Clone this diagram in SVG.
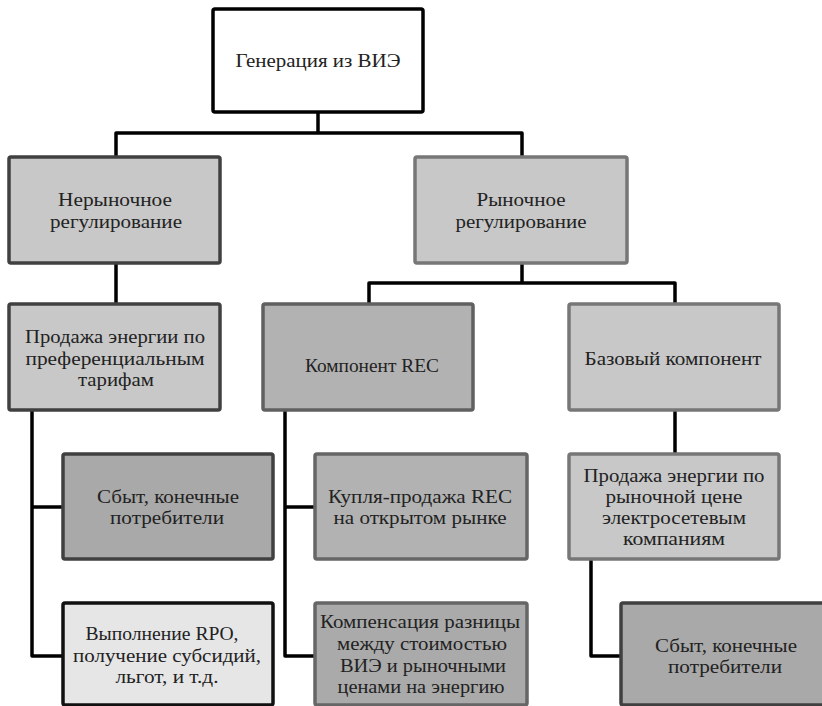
<svg xmlns="http://www.w3.org/2000/svg" width="822" height="706" viewBox="0 0 822 706">
<style>
.box{stroke-width:3.5}
.t{font-family:'Liberation Serif','Times New Roman',serif;font-size:18px;fill:#222;text-anchor:middle}
.c{fill:none;stroke:#000;stroke-width:3.5;stroke-linejoin:round}
</style>
<rect width="822" height="706" fill="#fff"/>
<g id="connectors">
<path class="c" d="M318 112V133M116 157V133H522V157"/>
<path class="c" d="M116 263V304"/>
<path class="c" d="M522 263V283M369 304V283H675V304"/>
<path class="c" d="M32 410V656H63M32 507H63"/>
<path class="c" d="M285 410V656H315M285 507H315"/>
<path class="c" d="M675 410V454"/>
<path class="c" d="M591 559V656H621"/>
</g>
<g id="n-root"><rect class="box" x="213" y="9" width="210" height="103" rx="2" fill="#fff" stroke="#000"/>
<text class="t" x="318" y="67" textLength="165" lengthAdjust="spacingAndGlyphs">Генерация из ВИЭ</text></g>
<g id="n-nonmarket"><rect class="box" x="9" y="157" width="211" height="106" rx="2" fill="#c8c8c8" stroke="#404040"/>
<text class="t" x="115" y="206" textLength="114" lengthAdjust="spacingAndGlyphs">Нерыночное</text><text class="t" x="116" y="228" textLength="132" lengthAdjust="spacingAndGlyphs">регулирование</text></g>
<g id="n-market"><rect class="box" x="415" y="157" width="212" height="106" rx="2" fill="#c8c8c8" stroke="#777"/>
<text class="t" x="521" y="206" textLength="89" lengthAdjust="spacingAndGlyphs">Рыночное</text><text class="t" x="521" y="228" textLength="131" lengthAdjust="spacingAndGlyphs">регулирование</text></g>
<g id="n-pref"><rect class="box" x="9" y="304" width="211" height="106" rx="2" fill="#c8c8c8" stroke="#404040"/>
<text class="t" x="115" y="343" textLength="180" lengthAdjust="spacingAndGlyphs">Продажа энергии по</text><text class="t" x="115" y="365" textLength="179" lengthAdjust="spacingAndGlyphs">преференциальным</text><text class="t" x="116" y="386" textLength="76" lengthAdjust="spacingAndGlyphs">тарифам</text></g>
<g id="n-rec"><rect class="box" x="263" y="304" width="210" height="106" rx="2" fill="#b2b2b2" stroke="#606060"/>
<text class="t" x="372" y="372" textLength="134" lengthAdjust="spacingAndGlyphs">Компонент REC</text></g>
<g id="n-base"><rect class="box" x="569" y="304" width="210" height="106" rx="2" fill="#c8c8c8" stroke="#777"/>
<text class="t" x="673" y="365" textLength="177" lengthAdjust="spacingAndGlyphs">Базовый компонент</text></g>
<g id="n-sales1"><rect class="box" x="63" y="454" width="210" height="105" rx="2" fill="#a9a9a9" stroke="#404040"/>
<text class="t" x="168" y="503" textLength="142" lengthAdjust="spacingAndGlyphs">Сбыт, конечные</text><text class="t" x="167" y="524" textLength="114" lengthAdjust="spacingAndGlyphs">потребители</text></g>
<g id="n-trade"><rect class="box" x="315" y="454" width="212" height="105" rx="2" fill="#b2b2b2" stroke="#666"/>
<text class="t" x="420" y="503" textLength="184" lengthAdjust="spacingAndGlyphs">Купля-продажа REC</text><text class="t" x="420" y="524" textLength="173" lengthAdjust="spacingAndGlyphs">на открытом рынке</text></g>
<g id="n-marketprice"><rect class="box" x="569" y="454" width="210" height="105" rx="2" fill="#c8c8c8" stroke="#777"/>
<text class="t" x="674" y="482" textLength="181" lengthAdjust="spacingAndGlyphs">Продажа энергии по</text><text class="t" x="674" y="503" textLength="137" lengthAdjust="spacingAndGlyphs">рыночной цене</text><text class="t" x="674" y="524" textLength="144" lengthAdjust="spacingAndGlyphs">электросетевым</text><text class="t" x="674" y="545" textLength="102" lengthAdjust="spacingAndGlyphs">компаниям</text></g>
<g id="n-rpo"><rect class="box" x="63" y="603" width="210" height="102" rx="2" fill="#e6e6e6" stroke="#111"/>
<text class="t" x="162" y="640" textLength="153" lengthAdjust="spacingAndGlyphs">Выполнение RPO,</text><text class="t" x="167" y="662" textLength="188" lengthAdjust="spacingAndGlyphs">получение субсидий,</text><text class="t" x="167" y="683" textLength="103" lengthAdjust="spacingAndGlyphs">льгот, и т.д.</text></g>
<g id="n-comp"><rect class="box" x="315" y="603" width="212" height="102" rx="2" fill="#aaa" stroke="#666"/>
<text class="t" x="420" y="628" textLength="200" lengthAdjust="spacingAndGlyphs">Компенсация разницы</text><text class="t" x="422" y="650" textLength="170" lengthAdjust="spacingAndGlyphs">между стоимостью</text><text class="t" x="423" y="672" textLength="166" lengthAdjust="spacingAndGlyphs">ВИЭ и рыночными</text><text class="t" x="421" y="693" textLength="167" lengthAdjust="spacingAndGlyphs">ценами на энергию</text></g>
<g id="n-sales2"><rect class="box" x="621" y="603" width="210" height="102" rx="2" fill="#a9a9a9" stroke="#404040"/>
<text class="t" x="726" y="652" textLength="142" lengthAdjust="spacingAndGlyphs">Сбыт, конечные</text><text class="t" x="725" y="673" textLength="114" lengthAdjust="spacingAndGlyphs">потребители</text></g>
</svg>
